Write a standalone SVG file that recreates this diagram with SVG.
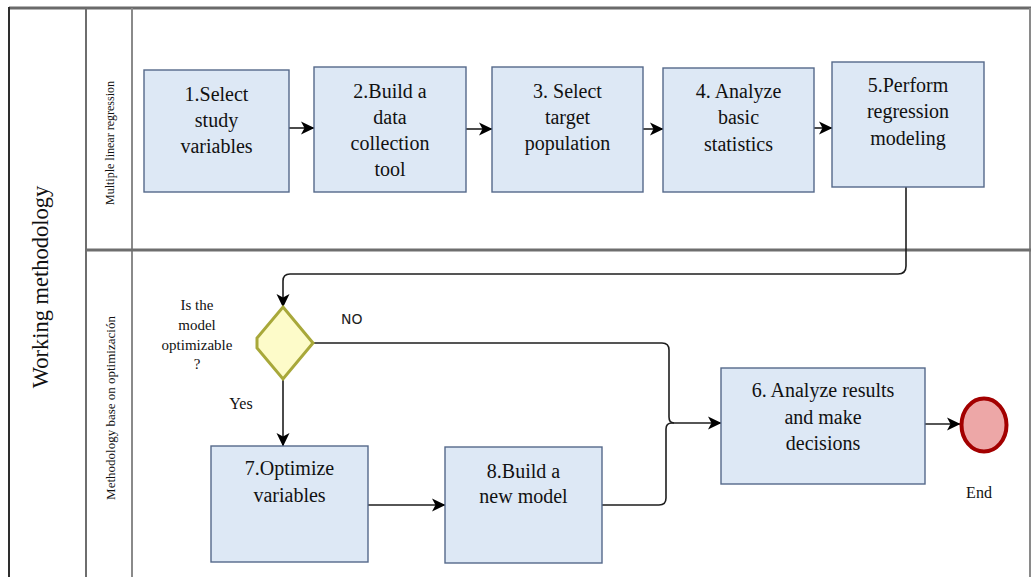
<svg xmlns="http://www.w3.org/2000/svg" width="1032" height="577" viewBox="0 0 1032 577">
  <style>
    .lane { fill: none; stroke: #6e6e6e; stroke-width: 2; }
    .task rect { fill: #dde8f5; stroke: #55698a; stroke-width: 1.4; }
    .lbl, .lbl tspan { font-family: "Liberation Serif", "Times New Roman", serif; font-size: 20px; fill: #111; text-anchor: middle; }
    .small, .small tspan { font-family: "Liberation Serif", "Times New Roman", serif; fill: #111; text-anchor: middle; }
    .flow { fill: none; stroke: #1e1e1e; stroke-width: 1.6; }
  </style>
  <defs>
    <marker id="arrow" markerUnits="userSpaceOnUse" markerWidth="14" markerHeight="14" viewBox="0 0 14 14" refX="13" refY="7" orient="auto">
      <path d="M0,0.5 L13.5,7 L0,13.5 L3.5,7 z" fill="#000"/>
    </marker>
  </defs>

  <rect width="1032" height="577" fill="#fff"/>

  <!-- pool and lane frame -->
  <g id="pool">
    <line x1="9" y1="8" x2="1031" y2="8" stroke="#6a6a6a" stroke-width="3"/>
    <line x1="9" y1="7" x2="9" y2="577" stroke="#2e2e2e" stroke-width="2"/>
    <line x1="86" y1="8" x2="86" y2="577" class="lane"/>
    <line x1="132" y1="8" x2="132" y2="577" stroke="#8a8a8a" stroke-width="2"/>
    <line x1="1030" y1="8" x2="1030" y2="577" stroke="#8a8a8a" stroke-width="2"/>
    <line x1="86" y1="250" x2="1031" y2="250" stroke="#6e6e6e" stroke-width="3"/>
    <text class="small" font-size="22.5" transform="translate(48,287) rotate(-90)">Working methodology</text>
  </g>
  <g id="lane-regression">
    <text class="small" font-size="12" transform="translate(114,143) rotate(-90)">Multiple linear regression</text>
  </g>
  <g id="lane-optimization">
    <text class="small" font-size="13" transform="translate(115,408) rotate(-90)">Methodology base on optimización</text>
  </g>

  <!-- connectors -->
  <g id="connectors">
    <path class="flow" d="M289,128 H314" marker-end="url(#arrow)"/>
    <path class="flow" d="M466,129 H492" marker-end="url(#arrow)"/>
    <path class="flow" d="M643,129 H663" marker-end="url(#arrow)"/>
    <path class="flow" d="M814,128 H832" marker-end="url(#arrow)"/>
    <path class="flow" d="M906,187 V266 Q906,274 898,274 H290 Q283,274 283,281 V307" marker-end="url(#arrow)"/>
    <path class="flow" d="M283,380 V446" marker-end="url(#arrow)"/>
    <path class="flow" d="M313,343 H662 Q669,343 669,350 V417 Q669,423 674,423"/>
    <path class="flow" d="M602,505 H659 Q666,505 666,498 V429 Q666,423 672,423"/>
    <path class="flow" d="M672,423 H721" marker-end="url(#arrow)"/>
    <path class="flow" d="M368,505 H445" marker-end="url(#arrow)"/>
    <path class="flow" d="M925,424 H960" marker-end="url(#arrow)"/>
  </g>

  <!-- tasks -->
  <g id="task1" class="task">
    <rect x="144" y="70" width="145" height="122"/>
    <text class="lbl"><tspan x="216.5" y="101">1.Select</tspan><tspan x="216.5" y="127">study</tspan><tspan x="216.5" y="153">variables</tspan></text>
  </g>
  <g id="task2" class="task">
    <rect x="314" y="67" width="152" height="125"/>
    <text class="lbl"><tspan x="390" y="98">2.Build a</tspan><tspan x="390" y="124">data</tspan><tspan x="390" y="150">collection</tspan><tspan x="390" y="176">tool</tspan></text>
  </g>
  <g id="task3" class="task">
    <rect x="492" y="67" width="151" height="125"/>
    <text class="lbl"><tspan x="567.5" y="98">3. Select</tspan><tspan x="567.5" y="124">target</tspan><tspan x="567.5" y="150">population</tspan></text>
  </g>
  <g id="task4" class="task">
    <rect x="663" y="68" width="151" height="124"/>
    <text class="lbl"><tspan x="738.5" y="98">4. Analyze</tspan><tspan x="738.5" y="124">basic</tspan><tspan x="738.5" y="151">statistics</tspan></text>
  </g>
  <g id="task5" class="task">
    <rect x="832" y="62" width="152" height="125"/>
    <text class="lbl"><tspan x="908" y="92">5.Perform</tspan><tspan x="908" y="118">regression</tspan><tspan x="908" y="145">modeling</tspan></text>
  </g>

  <!-- decision -->
  <g id="decision">
    <polygon points="283,307 313,343 283,379 257,348 257,338" fill="#fdfbc9" stroke="#a8a83a" stroke-width="3" stroke-linejoin="miter"/>
    <text class="small" font-size="15"><tspan x="197" y="310">Is the</tspan><tspan x="197" y="330">model</tspan><tspan x="197" y="350">optimizable</tspan><tspan x="197" y="369">?</tspan></text>
    <text x="341" y="324" font-family="DejaVu Sans, sans-serif" font-size="14" fill="#222">NO</text>
    <text class="small" font-size="16" x="241" y="409">Yes</text>
  </g>

  <g id="task7" class="task">
    <rect x="211" y="446" width="157" height="116"/>
    <text class="lbl"><tspan x="289.5" y="475">7.Optimize</tspan><tspan x="289.5" y="502">variables</tspan></text>
  </g>
  <g id="task8" class="task">
    <rect x="445" y="447" width="157" height="116"/>
    <text class="lbl"><tspan x="523.5" y="478">8.Build a</tspan><tspan x="523.5" y="503">new model</tspan></text>
  </g>
  <g id="task6" class="task">
    <rect x="721" y="368" width="204" height="116"/>
    <text class="lbl"><tspan x="823" y="397">6. Analyze results</tspan><tspan x="823" y="424">and make</tspan><tspan x="823" y="450">decisions</tspan></text>
  </g>

  <!-- end event -->
  <g id="end">
    <ellipse cx="984" cy="425" rx="22.5" ry="26.5" fill="#eda7a7" stroke="#a30000" stroke-width="4"/>
    <text class="small" font-size="16" x="979" y="498">End</text>
  </g>
</svg>
